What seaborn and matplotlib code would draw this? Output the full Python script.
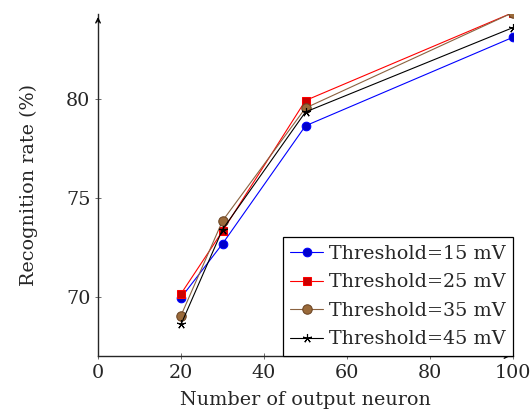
import matplotlib
matplotlib.use("Agg")
import matplotlib.pyplot as plt
import seaborn as sns
import pandas as pd

neurons = [20, 30, 50, 100]
rate_15 = [69.95, 72.68, 78.65, 83.13]
rate_25 = [70.15, 73.32, 79.93, 84.38]
rate_35 = [69.05, 73.84, 79.55, 84.38]
rate_45 = [68.60, 73.40, 79.35, 83.62]
labels = ["Threshold=15 mV", "Threshold=25 mV", "Threshold=35 mV", "Threshold=45 mV"]
x_ticks = [0, 20, 40, 60, 80, 100]
y_ticks = [70, 75, 80]

sns.set_style("ticks")
plt.rcParams["font.family"] = ["DejaVu Serif"]
plt.rcParams["mathtext.fontset"] = "dejavuserif"

FS = 13.8

fig = plt.figure(figsize=(5.31, 4.16), dpi=100)
ax = fig.add_axes([0.1846, 0.1442, 0.9661 - 0.1846, 0.966 - 0.1442])

styles = [
    dict(color="#0000ff", marker="o", markerfacecolor="#0000cc", markeredgecolor="#0000ff", markersize=6.2),
    dict(color="#ff0000", marker="s", markerfacecolor="#cc0000", markeredgecolor="#ff0000", markersize=6.0),
    dict(color="#8a6240", marker="o", markerfacecolor="#9a6a3a", markeredgecolor="#6b4423", markersize=6.8),
    dict(color="#000000", marker=(5, 2, 0), markerfacecolor="#000000", markeredgecolor="#000000", markersize=6.5, markeredgewidth=0.8),
]
series = [rate_15, rate_25, rate_35, rate_45]
for vals, lab, st in zip(series, labels, styles):
    df = pd.DataFrame({"x": neurons, "y": vals})
    sns.lineplot(data=df, x="x", y="y", ax=ax, label=lab, linewidth=0.8, **st)

ax.set_xlim(0, 100)
ax.set_ylim(67.0, 84.3)
ax.set_xticks(x_ticks)
ax.set_yticks(y_ticks)
ax.tick_params(axis="both", labelsize=FS, direction="inout", length=5, width=0.6, color="#555555", pad=3)
ax.spines["top"].set_visible(False)
ax.spines["right"].set_visible(False)
for s in ["left", "bottom"]:
    ax.spines[s].set_linewidth(1.0)
ax.set_xlabel("Number of output neuron", fontsize=FS, labelpad=7)
ax.set_ylabel("Recognition rate (%)", fontsize=FS, labelpad=20)

# axis arrows
ax.annotate("", xy=(1.0, 0), xytext=(0.97, 0), xycoords="axes fraction",
            arrowprops=dict(arrowstyle="->", lw=1.0, color="black", mutation_scale=8), annotation_clip=False)
ax.annotate("", xy=(0, 1.0), xytext=(0, 0.97), xycoords="axes fraction",
            arrowprops=dict(arrowstyle="->", lw=1.0, color="black", mutation_scale=8), annotation_clip=False)

leg = ax.legend(loc="lower right", fontsize=FS, frameon=True, fancybox=False,
                edgecolor="black", borderaxespad=0.0, handlelength=1.7,
                handletextpad=0.3, labelspacing=0.55, borderpad=0.4)
leg.get_frame().set_linewidth(0.9)
leg.get_frame().set_alpha(1.0)

fig.savefig("out.png", dpi=100)
